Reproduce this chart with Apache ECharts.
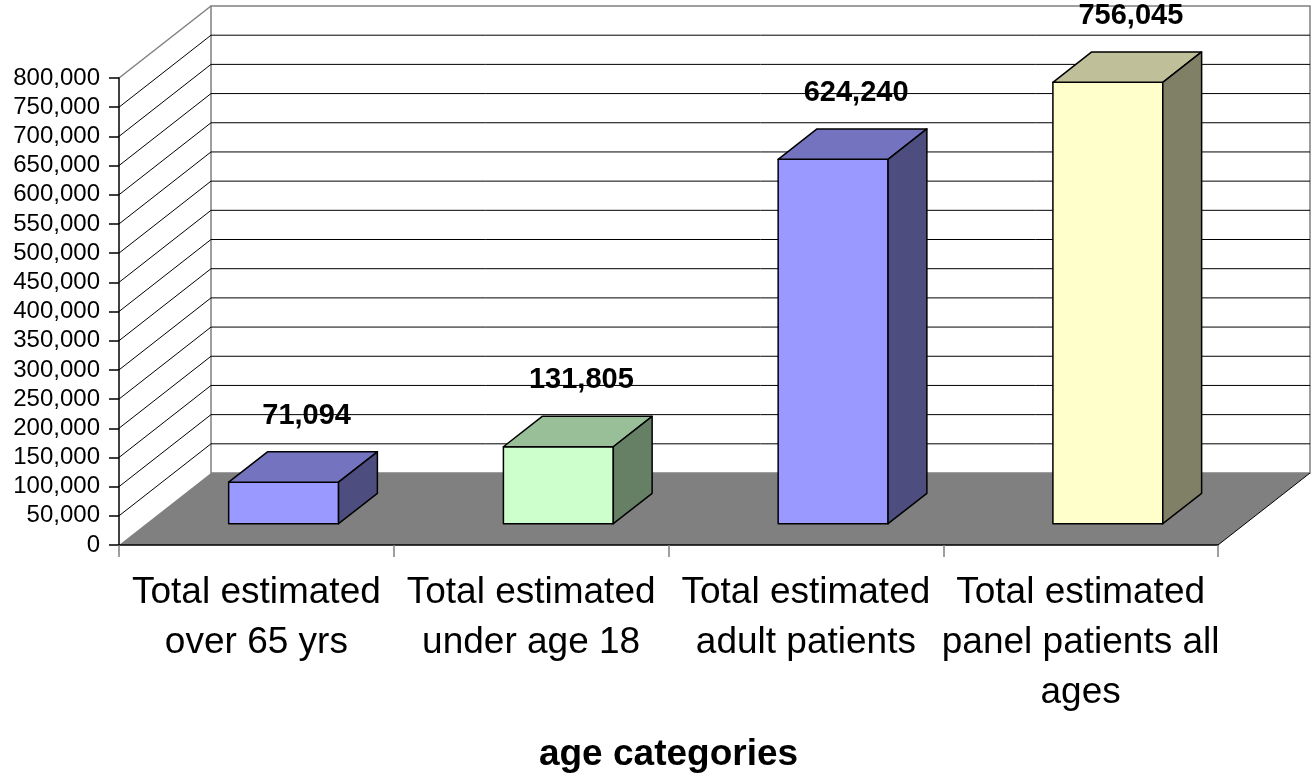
<!DOCTYPE html>
<html>
<head>
<meta charset="utf-8">
<script src="https://cdn.jsdelivr.net/npm/echarts@6/dist/echarts.min.js"></script>
<style>
html,body{margin:0;padding:0;background:#fff;}
#chart{width:1313px;height:773px;}
</style>
</head>
<body>
<div id="chart"></div>
<script>
// ---- data ----
const categories = [
  'Total estimated\nover 65 yrs',
  'Total estimated\nunder age 18',
  'Total estimated\nadult patients',
  'Total estimated\npanel patients all\nages'
];
const values = [71094, 131805, 624240, 756045];
const frontColors = ['#9999FF', '#CCFFCC', '#9999FF', '#FFFFCC'];
const topColors   = ['#7373BF', '#99BF99', '#7373BF', '#BFBF99'];
const sideColors  = ['#4D4D80', '#668066', '#4D4D80', '#808066'];
const yMin = 0, yMax = 800000, yStep = 50000;
const xAxisName = 'age categories';

// ---- 3D styling ----
const DX = 92, DY = -72;          // depth vector of the plot box
const F_FRONT = 0.296, F_BACK = 0.718; // bar depth position
const FONT = 'Liberation Sans, Arial, sans-serif';

const tickValues = [];
for (let v = yMin; v <= yMax; v += yStep) tickValues.push(v);

function renderFrame(params, api) {
  const cs = params.coordSys;
  const x0 = cs.x, x1 = cs.x + cs.width;
  const y0 = api.coord([0, 0])[1];
  const ch = [];
  // back wall
  ch.push({type:'rect', shape:{x:x0+DX, y:cs.y+DY, width:cs.width, height:cs.height},
    style:{fill:'#fff', stroke:'#808080', lineWidth:1.5}});
  tickValues.forEach(v => {
    if (v === yMin || v === yMax) return;
    const y = api.coord([0, v])[1];
    ch.push({type:'line', shape:{x1:x0+DX, y1:y+DY, x2:x1+DX, y2:y+DY},
      style:{stroke:'#000', lineWidth:1}});
    ch.push({type:'line', shape:{x1:x0, y1:y, x2:x0+DX, y2:y+DY},
      style:{stroke:'#000', lineWidth:1}});
  });
  const yt = api.coord([0, yMax])[1];
  ch.push({type:'line', shape:{x1:x0, y1:yt, x2:x0+DX, y2:yt+DY},
    style:{stroke:'#808080', lineWidth:1.5}});
  // floor
  ch.push({type:'polygon', shape:{points:[[x0,y0],[x1,y0],[x1+DX,y0+DY],[x0+DX,y0+DY]]},
    style:{fill:'#808080'}});
  ch.push({type:'line', shape:{x1:x1, y1:y0, x2:x1+DX, y2:y0+DY},
    style:{stroke:'#000', lineWidth:1}});
  return {type:'group', children:ch};
}

function renderBar(params, api) {
  const i = api.value(0), v = api.value(1);
  const base = api.coord([i, 0]);
  const top = api.coord([i, v]);
  const hw = api.size([1, 0])[0] * 0.2;
  const fx = DX * F_FRONT, fy = DY * F_FRONT;
  const bx = DX * F_BACK, by = DY * F_BACK;
  const xl = base[0] - hw, xr = base[0] + hw;
  const yb = base[1], ytp = top[1];
  const stroke = {stroke:'#000', lineWidth:1.5, lineJoin:'round'};
  return {type:'group', children:[
    {type:'polygon', shape:{points:[[xl+fx,ytp+fy],[xr+fx,ytp+fy],[xr+fx,yb+fy],[xl+fx,yb+fy]]},
      style:Object.assign({fill:frontColors[i]}, stroke)},
    {type:'polygon', shape:{points:[[xl+fx,ytp+fy],[xr+fx,ytp+fy],[xr+bx,ytp+by],[xl+bx,ytp+by]]},
      style:Object.assign({fill:topColors[i]}, stroke)},
    {type:'polygon', shape:{points:[[xr+fx,ytp+fy],[xr+bx,ytp+by],[xr+bx,yb+by],[xr+fx,yb+fy]]},
      style:Object.assign({fill:sideColors[i]}, stroke)},
    {type:'text', style:{text:v.toLocaleString('en-US'), x:base[0]+fx+23, y:ytp+by-36,
      align:'center', verticalAlign:'middle', fill:'#000',
      font:'bold 29px ' + FONT}}
  ]};
}

const chart = echarts.init(document.getElementById('chart'));
chart.setOption({
  animation:false,
  backgroundColor:'#fff',
  grid:{left:119, right:95, top:78, bottom:228, containLabel:false, outerBoundsMode:'none'},
  xAxis:{
    type:'category', data:categories, z:10,
    axisLine:{lineStyle:{color:'#000', width:1.5}},
    axisTick:{show:true, length:12, lineStyle:{color:'#808080', width:1.5}},
    axisLabel:{fontSize:37, fontFamily:FONT, color:'#000', lineHeight:50, margin:23, interval:0},
    name:xAxisName, nameLocation:'middle', nameGap:191,
    nameTextStyle:{fontSize:37, fontWeight:'bold', fontFamily:FONT, color:'#000'}
  },
  yAxis:{
    type:'value', min:yMin, max:yMax, interval:yStep, z:10,
    axisLine:{show:true, lineStyle:{color:'#000', width:1.5}},
    axisTick:{show:true, length:10, lineStyle:{color:'#000', width:1.5}},
    splitLine:{show:false},
    axisLabel:{fontSize:24, fontFamily:FONT, color:'#000', margin:19,
      formatter:v => v.toLocaleString('en-US')}
  },
  series:[
    {type:'custom', renderItem:renderFrame, data:[[0,0]], clip:false, z:1, silent:true},
    {type:'custom', renderItem:renderBar, clip:false, z:2,
      data:values.map((v,i)=>[i,v])}
  ]
});
</script>
</body>
</html>
